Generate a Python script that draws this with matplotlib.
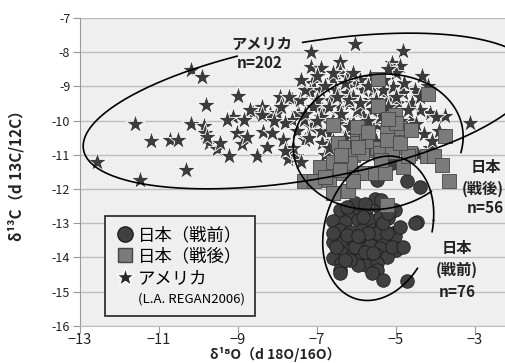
import numpy as np
import matplotlib
matplotlib.use("Agg")
import matplotlib.pyplot as plt
from matplotlib.lines import Line2D

plt.rcParams['font.family'] = ['Noto Sans CJK JP', 'DejaVu Sans']

# アメリカ (stars): d18O, d13C
usa_x = [-12.58, -11.62, -11.21, -10.72, -10.53, -11.48, -10.20, -9.91, -10.32, -10.20,
         -9.82, -9.86, -9.84, -9.73, -9.54, -9.24, -8.99, -9.12, -9.03, -8.91,
         -8.78, -8.53, -8.61, -8.40, -8.36, -8.27, -8.19, -7.94, -8.02, -7.85,
         -7.73, -7.54, -7.48, -7.30, -7.16, -7.16, -6.91, -7.12, -7.17, -6.92,
         -6.88, -6.88, -6.42, -6.42, -6.04, -4.82, -5.11, -4.89, -4.35, -4.52,
         -4.14, -3.76, -3.13, -4.82, -4.95, -5.20, -5.41, -5.66, -5.83, -6.08,
         -6.25, -6.51, -6.68, -6.42, -6.17, -5.92, -5.66, -5.41, -5.16, -4.65,
         -4.40, -4.14, -6.59, -6.34, -6.08, -5.83, -5.49, -5.24, -4.82, -6.25,
         -6.42, -6.59, -7.16, -7.33, -6.68, -7.63, -7.63, -7.42, -6.59, -6.25,
         -5.58, -5.33, -5.08, -5.66, -6.59, -7.00, -7.81, -8.14, -8.40, -8.70,
         -8.86, -9.29, -9.46, -9.79,
         -7.30, -7.00, -6.80, -6.60, -6.30, -6.10, -5.90, -5.70, -5.50, -5.30,
         -5.00, -4.80, -4.60, -4.40, -4.70, -4.90, -5.10, -5.40, -5.60, -5.80,
         -6.00, -6.20, -6.50, -6.70, -6.90, -7.10, -7.30, -7.50, -7.20, -6.90,
         -6.60, -6.30, -6.80, -7.60, -7.40, -6.20, -5.20, -4.50, -4.30, -5.00,
         -5.90, -6.40, -7.70, -7.90, -7.80, -8.10, -6.00, -5.50, -6.70, -7.00,
         -4.20, -4.00, -3.90, -4.10, -4.45, -5.70, -6.50, -7.40, -6.10, -5.20]
usa_y = [-11.22, -10.09, -10.59, -10.57, -10.57, -11.74, -8.51, -8.73, -11.46, -10.10,
         -9.55, -10.16, -10.37, -10.66, -10.84, -11.05, -9.27, -9.89, -10.37, -10.69,
         -10.47, -11.03, -9.79, -9.59, -10.32, -10.76, -9.81, -9.30, -9.79, -10.57,
         -11.13, -11.05, -9.77, -10.57, -7.98, -8.42, -8.47, -8.91, -9.15, -9.11,
         -9.69, -10.66, -8.29, -8.57, -7.76, -7.96, -8.33, -8.40, -8.70, -9.11,
         -9.79, -9.88, -10.08, -9.20, -9.50, -9.30, -8.91, -8.72, -9.11, -8.91,
         -9.20, -9.11, -9.40, -9.59, -9.50, -9.69, -9.40, -9.59, -9.79, -9.98,
         -9.69, -10.81, -9.98, -9.98, -10.08, -9.88, -10.13, -10.18, -10.27, -10.37,
         -10.76, -11.05, -10.18, -9.98, -10.37, -9.98, -9.40, -9.40, -8.81, -8.72,
         -9.11, -9.11, -9.01, -10.37, -10.57, -9.40, -10.08, -10.37, -9.85, -9.69,
         -9.98, -9.98, -10.66, -10.47,
         -9.10, -8.70, -9.00, -8.60, -8.90, -9.30, -8.80, -9.00, -9.40, -8.80,
         -9.30, -8.90, -9.50, -9.30, -9.70, -10.00, -10.20, -9.90, -9.70, -10.30,
         -9.70, -10.20, -10.10, -9.60, -9.90, -9.60, -9.80, -10.30, -10.50, -10.30,
         -10.60, -10.50, -11.00, -10.80, -11.20, -9.40, -9.60, -10.10, -10.40, -8.60,
         -9.50, -9.80, -9.30, -9.60, -10.90, -10.00, -10.50, -10.60, -10.80, -10.00,
         -9.00, -9.90, -10.30, -10.60, -11.00, -10.00, -9.30, -8.80, -8.60, -8.50]

# 日本（戦後） (squares)
post_x = [-5.45, -4.18, -5.45, -6.59, -5.03, -4.90, -3.76, -6.00, -5.75, -5.24,
          -6.46, -6.29, -6.00, -5.75, -5.49, -5.24, -4.95, -4.65, -4.22, -4.05,
          -3.84, -3.67, -6.08, -5.87, -5.41, -5.11, -4.82, -6.92, -6.59, -6.34,
          -6.00, -5.79, -5.54, -5.28, -7.33, -7.08, -6.70, -6.59, -6.21, -6.08,
          -5.24, -5.75, -5.24, -6.00, -5.71, -4.99, -4.69, -6.17, -6.42, -4.90,
          -6.80, -5.96, -5.37, -4.61, -5.20, -6.38]
post_y = [-8.78, -9.23, -9.57, -10.13, -9.84, -10.23, -10.45, -10.37, -10.37, -10.37,
          -10.66, -10.76, -10.66, -10.86, -10.81, -10.76, -10.76, -10.96, -11.05, -11.05,
          -11.30, -11.77, -11.00, -10.96, -10.96, -10.91, -11.35, -11.35, -11.20, -11.54,
          -11.54, -11.54, -11.54, -11.54, -11.78, -11.78, -11.74, -12.11, -12.06, -11.78,
          -12.47, -10.61, -10.57, -10.18, -10.32, -10.08, -11.05, -11.25, -11.45, -10.66,
          -11.64, -10.76, -11.15, -10.27, -9.94, -11.00]

# 日本（戦前） (circles)
pre_x = [-5.49, -5.11, -4.73, -4.38, -5.53, -6.42, -6.17, -5.96, -5.75, -5.41,
         -5.03, -6.59, -6.29, -5.96, -5.66, -5.41, -5.20, -4.48, -6.42, -6.17,
         -5.87, -5.57, -5.37, -5.07, -6.59, -6.34, -6.08, -5.79, -5.53, -5.32,
         -5.03, -6.17, -5.92, -5.66, -5.41, -4.99, -6.42, -6.59, -6.38, -6.08,
         -5.87, -5.71, -5.49, -5.24, -6.42, -6.42, -5.75, -5.49, -5.49, -5.32,
         -4.73, -4.52, -6.04, -5.79, -5.49, -5.71, -5.24, -5.96, -5.32, -6.25,
         -6.59, -6.04, -5.79, -5.11, -5.62, -6.17, -4.90, -5.37, -5.20, -6.51,
         -5.83, -5.57, -6.25, -5.96, -4.82, -6.29]
pre_y = [-11.74, -11.25, -11.78, -11.93, -12.30, -12.63, -12.71, -12.57, -12.62, -12.57,
         -12.63, -12.93, -12.96, -12.91, -12.91, -12.81, -12.86, -12.96, -13.20, -13.25,
         -13.20, -13.20, -13.15, -13.30, -13.54, -13.54, -13.49, -13.44, -13.49, -13.49,
         -13.39, -13.78, -13.74, -13.64, -13.74, -13.78, -13.83, -14.03, -14.17, -13.93,
         -13.98, -14.03, -13.93, -13.98, -14.37, -14.47, -14.22, -14.17, -14.37, -14.66,
         -14.69, -13.01, -12.40, -12.45, -13.30, -13.30, -13.30, -14.22, -13.01, -12.52,
         -13.30, -13.69, -13.83, -13.69, -14.47, -14.08, -13.10, -12.33, -12.71, -13.69,
         -12.81, -13.88, -13.35, -13.39, -13.69, -14.08]

x_ticks = [-13, -11, -9, -7, -5, -3]
x_tick_labels = ["\u221213", "\u221211", "\u22129", "\u22127", "\u22125", "\u22123"]
y_ticks = [-7, -8, -9, -10, -11, -12, -13, -14, -15, -16]
y_tick_labels = ["-7", "-8", "-9", "-10", "-11", "-12", "-13", "-14", "-15", "-16"]


def ellipse(c, u, v, gap=None):
	t = np.linspace(0, 2 * np.pi, 721)
	x = c[0] + u[0] * np.cos(t) + v[0] * np.sin(t)
	y = c[1] + u[1] * np.cos(t) + v[1] * np.sin(t)
	if gap:
		deg = np.degrees(t)
		deg = np.where(deg > 180, deg - 360, deg)
		mask = (deg > gap[0]) & (deg < gap[1])
		x[mask] = np.nan
		y[mask] = np.nan
	return x, y


fig = plt.figure(figsize=(5.05, 3.63), dpi=100)
ax = fig.add_axes([80 / 505, 1 - 325.7 / 363, 425 / 505, 307.7 / 363])
ax.set_facecolor("#efefef")

ax.set_xlim(-13, -13 + 425 / 39.5)
ax.set_ylim(-16, -7)
for yv in y_ticks:
	ax.axhline(yv, color="#bdbdbd", lw=1.0, zorder=0)

ax.scatter(usa_x, usa_y, marker="*", s=210, c="#3c3c3c", edgecolors="white",
	linewidths=0.6, zorder=2)
ax.scatter(pre_x, pre_y, marker="o", s=95, c="#404040", edgecolors="#1e1e1e",
	linewidths=0.6, zorder=3)
ax.scatter(post_x, post_y, marker="s", s=90, c="#7b7b7b", edgecolors="#454545",
	linewidths=0.6, zorder=4)

# ellipses round each group
ex, ey = ellipse((-7.22, -9.72), (5.65, 0.75), (0.75, 2.15), gap=(99, 116))
ax.plot(ex, ey, color="black", lw=1.2, zorder=5)
ex, ey = ellipse((-5.45, -10.62), (2.15, 0.1), (0.05, 1.98), gap=(-50, -12))
ax.plot(ex, ey, color="black", lw=1.2, zorder=5)
ex, ey = ellipse((-5.45, -13.15), (1.4, 0.23), (0.125, 2.1), gap=(-40, -9))
ax.plot(ex, ey, color="black", lw=1.2, zorder=5)

lab = dict(fontsize=11, fontweight="bold", color="#222222", ha="center", va="center", zorder=6)
ax.text(-8.4, -7.74, "アメリカ", **lab)
ax.text(-8.44, -8.33, "n=202", **lab)
ax.text(-2.72, -11.35, "日本", **lab)
ax.text(-3.33, -12.0, "(戦後)", ha="left", va="center", fontsize=11,
	fontweight="bold", color="#222222", zorder=6)
ax.text(-2.75, -12.57, "n=56", **lab)
ax.text(-3.46, -13.73, "日本", **lab)
ax.text(-3.46, -14.37, "(戦前)", **lab)
ax.text(-3.46, -15.0, "n=76", **lab)

handles = [
	Line2D([], [], marker="o", ls="", ms=11, mfc="#404040", mec="#1e1e1e"),
	Line2D([], [], marker="s", ls="", ms=10, mfc="#7b7b7b", mec="#454545"),
	Line2D([], [], marker="*", ls="", ms=14, mfc="#2a2a2a", mec="white"),
	Line2D([], [], ls="", marker=""),
]
labels = ["日本（戦前）", "日本（戦後）", "アメリカ", "(L.A. REGAN2006)"]
leg = ax.legend(handles, labels, loc="lower left", bbox_to_anchor=(0.059, 0.0315),
	borderaxespad=0, fontsize=12.5, frameon=True, fancybox=False,
	handletextpad=0.2, handlelength=1.1, labelspacing=0.2, borderpad=0.6)
leg.get_frame().set_edgecolor("#222222")
leg.get_frame().set_facecolor("#efefef")
leg.get_frame().set_linewidth(1.2)
leg.get_frame().set_alpha(1)
leg.get_texts()[3].set_fontsize(9.5)
leg.set_zorder(7)

ax.set_xticks(x_ticks)
ax.set_xticklabels(x_tick_labels, fontsize=10.5, color="#222222")
ax.set_yticks(y_ticks)
ax.set_yticklabels(y_tick_labels, fontsize=9, color="#222222")
ax.tick_params(axis="both", length=5, color="#999999", pad=2)
ax.tick_params(axis="x", pad=0.5)
for s in ["top", "right"]:
	ax.spines[s].set_visible(False)
ax.spines["left"].set_color("#999999")
ax.spines["bottom"].set_color("#bdbdbd")

ax.set_xlabel("δ¹⁸O（d 18O/16O）", fontsize=10, fontweight="bold", color="#222222",
	va="bottom")
ax.xaxis.set_label_coords(0.46, -0.117)
ax.set_ylabel("δ¹³C（d 13C/12C）", fontsize=11, fontweight="bold", color="#222222")
ax.yaxis.set_label_coords(-0.13, 0.5)

fig.savefig("out.png", dpi=100, facecolor="white")
